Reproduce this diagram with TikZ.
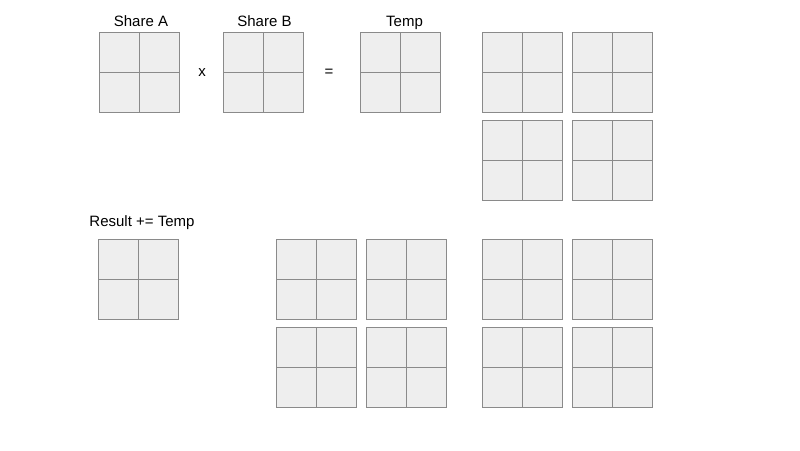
\documentclass[tikz,border=0pt]{standalone}
\usepackage{fontspec}
\setmainfont{Liberation Sans}
\definecolor{cellfill}{HTML}{EEEEEE}
\definecolor{linegray}{HTML}{8A8A8A}
\tikzset{
  mat/.style={draw=linegray, fill=cellfill, line width=1pt, minimum size=80pt, inner sep=0pt,
    path picture={\draw[linegray, line width=1pt]
      (path picture bounding box.north) -- (path picture bounding box.south)
      (path picture bounding box.west) -- (path picture bounding box.east);}},
  lbl/.style={font=\fontsize{15pt}{18pt}\selectfont, inner sep=0pt, anchor=base}
}
\begin{document}
\begin{tikzpicture}[x=1pt,y=-1pt]
\useasboundingbox (0,0) rectangle (800,450);
% top row
\node[mat] (sa) at (139,72.3) {};
\node[mat] (sb) at (263.3,72.3) {};
\node[mat] (tmp) at (400.2,72.3) {};
\node[lbl] (lsa) at (141,26) {Share A};
\node[lbl] (lsb) at (264.5,26) {Share B};
\node[lbl] (ltmp) at (404.5,26) {Temp};
\node[lbl] (times) at (202,76) {x};
\node[lbl] (eq) at (329,76) {=};
% top right block
\node[mat] (t11) at (522.8,72.3) {};
\node[mat] (t12) at (612.5,72.3) {};
\node[mat] (t21) at (522.8,160.3) {};
\node[mat] (t22) at (612.5,160.3) {};
% result
\node[lbl] (lres) at (142,226.5) {Result += Temp};
\node[mat] (res) at (138.3,279.3) {};
% middle block
\node[mat] (m11) at (316.5,279.3) {};
\node[mat] (m12) at (406,279.3) {};
\node[mat] (m21) at (316.5,367.3) {};
\node[mat] (m22) at (406,367.3) {};
% bottom right block
\node[mat] (b11) at (522.8,279.3) {};
\node[mat] (b12) at (612.5,279.3) {};
\node[mat] (b21) at (522.8,367.3) {};
\node[mat] (b22) at (612.5,367.3) {};
\end{tikzpicture}
\end{document}
